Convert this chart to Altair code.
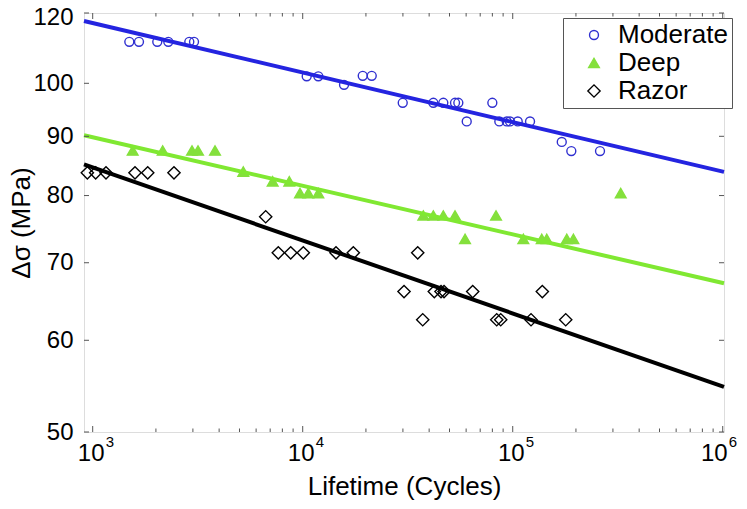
import altair as alt
import pandas as pd

series_order = ["Moderate", "Deep", "Razor"]

mod_cycles = [1494, 1661, 2030, 2291, 2884, 3037, 10447, 11866, 15730, 19310, 21313,
              29940, 41880, 46720, 53120, 55080, 60390, 79970,
              86340, 93630, 97080, 105630, 120900, 171200, 190100, 260400]
mod_stress = [108.6, 108.6, 108.6, 108.6, 108.6, 108.6, 101.4, 101.4, 99.7, 101.5, 101.5,
              96.2, 96.2, 96.2, 96.2, 96.2, 92.7, 96.2,
              92.7, 92.7, 92.7, 92.7, 92.7, 89.0, 87.4, 87.4]

deep_cycles = [1550, 2154, 2971, 3173, 3823, 5213, 7194, 8633, 9708, 10633, 11866,
               37530, 41880, 46720, 53120, 59280, 83270,
               112330, 137400, 145160, 180800, 194400, 326800]
deep_stress = [87.5, 87.5, 87.5, 87.5, 87.5, 83.9, 82.3, 82.3, 80.4, 80.4, 80.4,
               76.9, 76.9, 76.9, 76.9, 73.4, 76.9,
               73.4, 73.4, 73.4, 73.4, 73.4, 80.4]

razor_cycles = [943, 1033, 1157, 1590, 1828, 2438, 6664, 7651, 8767, 10067, 14405, 17418,
                30370, 35290, 37280, 42330, 45560, 47090, 64490,
                83910, 87680, 122220, 138350, 178800]
razor_stress = [83.7, 83.7, 83.7, 83.7, 83.7, 83.7, 76.7, 71.4, 71.4, 71.4, 71.4, 71.4,
                66.1, 71.4, 62.5, 66.1, 66.1, 66.1, 66.1,
                62.5, 62.5, 62.5, 66.1, 62.5]

# fitted power-law lines (end points read at the plot edges)
fit_cycles = [909, 1014000]
mod_fit = [113.2, 83.85]
deep_fit = [90.2, 67.2]
razor_fit = [85.1, 54.7]

x_major = [1000, 10000, 100000, 1000000]
x_exponents = ["3", "4", "5", "6"]
x_minor = [2000, 3000, 4000, 5000, 6000, 7000, 8000, 9000,
           20000, 30000, 40000, 50000, 60000, 70000, 80000, 90000,
           200000, 300000, 400000, 500000, 600000, 700000, 800000, 900000]
y_ticks = [50, 60, 70, 80, 90, 100, 115]

marker_colors = ["#3030d0", "#84e03c", "#000000"]
marker_fills = ["transparent", "#84e03c", "transparent"]
marker_shapes = ["circle", "triangle-up", "diamond"]
marker_sizes = [80, 150, 40]
line_colors = ["#2424e0", "#80e832", "#000000"]

W, H = 640, 419
AXC = "#555555"
FONT = "Liberation Sans"

pts = pd.concat([
    pd.DataFrame({"series": "Moderate", "cycles": mod_cycles, "stress": mod_stress}),
    pd.DataFrame({"series": "Deep", "cycles": deep_cycles, "stress": deep_stress}),
    pd.DataFrame({"series": "Razor", "cycles": razor_cycles, "stress": razor_stress}),
], ignore_index=True)

fit = pd.concat([
    pd.DataFrame({"series": "Moderate", "cycles": fit_cycles, "stress": mod_fit}),
    pd.DataFrame({"series": "Deep", "cycles": fit_cycles, "stress": deep_fit}),
    pd.DataFrame({"series": "Razor", "cycles": fit_cycles, "stress": razor_fit}),
], ignore_index=True)

xscale = alt.Scale(type="log", domain=[909, 1014000], nice=False)
yscale = alt.Scale(type="log", domain=[50, 115], nice=False)

x_axis = alt.Axis(values=x_major, labelExpr="'10'", ticks=False, tickSize=0, domain=False,
                  grid=False, labelFontSize=24, labelPadding=9,
                  labelOffset={"condition": {"test": "datum.value >= 1000000", "value": -9},
                               "value": -2},
                  labelColor="black", labelFont=FONT,
                  title="Lifetime (Cycles)", titleFontSize=26, titleFont=FONT,
                  titleFontWeight="normal", titleColor="black",
                  titleY=62, titleBaseline="alphabetic")
y_axis = alt.Axis(values=y_ticks,
                  labelExpr="datum.value >= 115 ? '120' : format(datum.value, 'd')",
                  labelOffset={"condition": {"test": "datum.value >= 115", "value": 4},
                               "value": 0},
                  ticks=False, tickSize=0, domain=False, grid=False,
                  labelFontSize=24, labelPadding=11, labelColor="black", labelFont=FONT,
                  title="Δσ (MPa)", titleFontSize=26, titleFont=FONT,
                  titleFontWeight="normal", titleColor="black",
                  titleX=-55, titleY=209.5, titleAngle=-90,
                  titleBaseline="alphabetic", titleAlign="center")

legend = alt.Legend(title=None, orient="none", legendX=479, legendY=5, padding=4,
                    symbolOffset=14, labelOffset=11, labelFontSize=26, labelFont=FONT,
                    labelColor="black", strokeColor=AXC, fillColor="white",
                    rowPadding=2, symbolSize=40, symbolStrokeWidth=1.4, labelLimit=300)

points = alt.Chart(pts).mark_point(strokeWidth=1.4, opacity=1, filled=False).encode(
    x=alt.X("cycles:Q", scale=xscale, axis=x_axis),
    y=alt.Y("stress:Q", scale=yscale, axis=y_axis),
    color=alt.Color("series:N", scale=alt.Scale(domain=series_order, range=marker_colors),
                    legend=legend),
    shape=alt.Shape("series:N", scale=alt.Scale(domain=series_order, range=marker_shapes),
                    legend=legend),
    fill=alt.Fill("series:N", scale=alt.Scale(domain=series_order, range=marker_fills),
                  legend=legend),
    size=alt.Size("series:N", scale=alt.Scale(domain=series_order, range=marker_sizes),
                  legend=None),
)

lines = alt.Chart(fit).mark_line(strokeWidth=4).encode(
    x=alt.X("cycles:Q", scale=xscale),
    y=alt.Y("stress:Q", scale=yscale),
    stroke=alt.Stroke("series:N", scale=alt.Scale(domain=series_order, range=line_colors),
                      legend=None),
    detail="series:N",
)

xmaj = pd.DataFrame({"cycles": x_major, "exp": x_exponents})
xmin = pd.DataFrame({"cycles": x_minor})
ytk = pd.DataFrame({"stress": y_ticks})

def xrule(df, y0, y1):
    return alt.Chart(df).mark_rule(color=AXC, strokeWidth=1).encode(
        x=alt.X("cycles:Q", scale=xscale), y=alt.value(y0), y2=alt.value(y1))

def yrule(df, x0, x1):
    return alt.Chart(df).mark_rule(color=AXC, strokeWidth=1).encode(
        y=alt.Y("stress:Q", scale=yscale), x=alt.value(x0), x2=alt.value(x1))

ticks = [
    xrule(xmaj, H, H - 6), xrule(xmaj, 0, 6),
    xrule(xmin, H, H - 3.5), xrule(xmin, 0, 3.5),
    yrule(ytk, 0, 5), yrule(ytk, W - 5, W),
]

def exp_layer(dx, flt):
    return alt.Chart(xmaj).transform_filter(flt).mark_text(
        align="left", baseline="alphabetic", fontSize=15, font=FONT,
        color="black", dx=dx).encode(
        x=alt.X("cycles:Q", scale=xscale),
        y=alt.value(H + 15),
        text="exp:N",
    )

exps_main = exp_layer(13, "datum.cycles < 1000000")
exps_last = exp_layer(6, "datum.cycles >= 1000000")

chart = alt.layer(points, lines, *ticks, exps_main, exps_last).properties(
    width=W, height=H,
    autosize=alt.AutoSizeParams(type="none"),
    padding={"left": 76, "top": 5, "right": 15, "bottom": 69},
).configure_view(stroke=AXC, strokeWidth=1).configure(font=FONT)

chart.save("out.html", embed_options={"renderer": "svg", "actions": False})
